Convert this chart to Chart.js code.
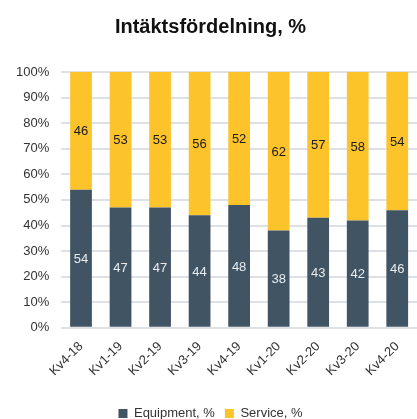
<!DOCTYPE html>
<html lang="sv">
<head>
    <meta charset="UTF-8">
    <title>Intäktsfördelning</title>
    <script src="https://cdn.jsdelivr.net/npm/chart.js@4/dist/chart.umd.min.js"></script>
    <style>
        body {
            margin: 0;
            background: #ffffff;
        }
        #wrap {
            width: 417px;
            height: 419px;
        }
    </style>
</head>
<body>
    <div id="wrap"><canvas id="graf"></canvas></div>

    <script>
        const kvartal = ['Kv4-18', 'Kv1-19', 'Kv2-19', 'Kv3-19', 'Kv4-19', 'Kv1-20', 'Kv2-20', 'Kv3-20', 'Kv4-20'];
        const equipment = [54, 47, 47, 44, 48, 38, 43, 42, 46];
        const service = [46, 53, 53, 56, 52, 62, 57, 58, 54];

        const skrift = '"Liberation Sans", Arial, sans-serif';

        // skriv verdiene midt i hver stolpe
        const verdiEtiketter = {
            id: 'verdiEtiketter',
            afterDatasetsDraw(chart) {
                const ctx = chart.ctx;
                ctx.save();
                ctx.font = '13px ' + skrift;
                ctx.textAlign = 'center';
                ctx.textBaseline = 'middle';
                chart.data.datasets.forEach((ds, i) => {
                    const meta = chart.getDatasetMeta(i);
                    ctx.fillStyle = i === 0 ? '#e8ecef' : '#1a1a1a';
                    meta.data.forEach((bar, j) => {
                        const midt = (bar.y + bar.base) / 2;
                        ctx.fillText(ds.data[j], bar.x, midt + 1);
                    });
                });
                ctx.restore();
            }
        };

        new Chart(document.getElementById('graf'), {
            type: 'bar',
            data: {
                labels: kvartal,
                datasets: [{
                    label: 'Equipment, %',
                    data: equipment,
                    backgroundColor: '#415464',
                    categoryPercentage: 1,
                    barPercentage: 0.55
                }, {
                    label: 'Service, %',
                    data: service,
                    backgroundColor: '#fcc32b',
                    categoryPercentage: 1,
                    barPercentage: 0.55
                }]
            },
            options: {
                responsive: true,
                maintainAspectRatio: false,
                animation: false,
                layout: {
                    padding: { left: 4, right: 0, top: 8, bottom: -11 }
                },
                plugins: {
                    title: {
                        display: true,
                        text: 'Intäktsfördelning, %',
                        color: '#111111',
                        font: { family: skrift, size: 20, weight: 'bold' },
                        padding: { top: 7, bottom: 33 }
                    },
                    legend: {
                        position: 'bottom',
                        labels: {
                            boxWidth: 9,
                            boxHeight: 9,
                            color: '#333333',
                            padding: 10,
                            font: { family: skrift, size: 13 }
                        }
                    },
                    tooltip: { enabled: false }
                },
                scales: {
                    x: {
                        stacked: true,
                        grid: { display: false },
                        border: { display: false },
                        afterFit(scale) {
                            scale.height += 15;
                        },
                        ticks: {
                            color: '#333333',
                            maxRotation: 45,
                            minRotation: 45,
                            font: { family: skrift, size: 13 }
                        }
                    },
                    y: {
                        stacked: true,
                        min: 0,
                        max: 100,
                        border: { display: false },
                        grid: { color: '#dde1e5', lineWidth: 2, drawTicks: false },
                        ticks: {
                            stepSize: 10,
                            padding: 12,
                            color: '#333333',
                            font: { family: skrift, size: 13 },
                            callback: v => v + '%'
                        }
                    }
                }
            },
            plugins: [verdiEtiketter]
        });
    </script>
</body>
</html>
